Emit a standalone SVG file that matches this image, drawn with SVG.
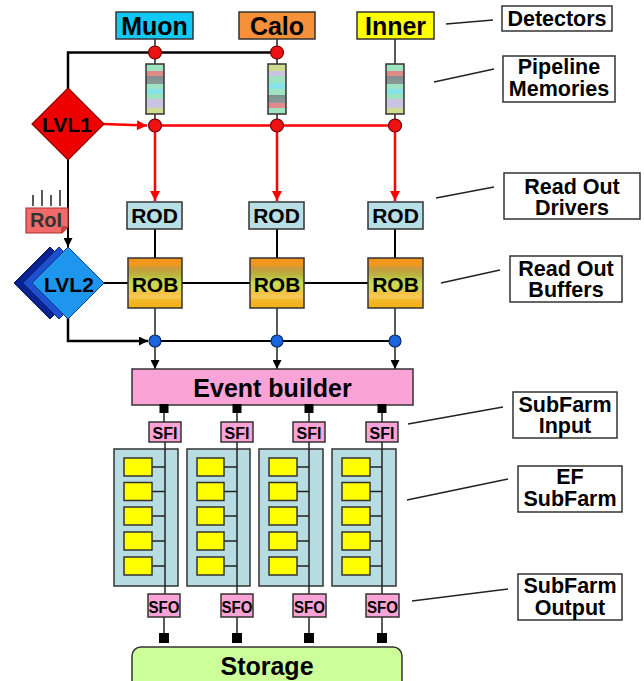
<svg xmlns="http://www.w3.org/2000/svg" width="644" height="681" viewBox="0 0 644 681">
<style>
text{font-family:"Liberation Sans",Arial,sans-serif;font-weight:bold;fill:#000;text-anchor:middle}
.box{stroke:#333;stroke-width:1.5}
.lbl{fill:#fff;stroke:#333;stroke-width:1.5}
.ln{fill:none;stroke:#222;stroke-width:1.5}
.bk{fill:none;stroke:#000;stroke-width:2.5}
.rd{fill:none;stroke:#f00;stroke-width:2.5}
.rdot{fill:#ee1111;stroke:#700;stroke-width:1.2}
.bdot{fill:#1a66e0;stroke:#0a2a6a;stroke-width:1.2}
.sq{fill:#000}
.pink{fill:#f9a3d6;stroke:#333;stroke-width:1.5}
.yel{fill:#ffff00;stroke:#333;stroke-width:1.5}
.farm{fill:#b7dde3;stroke:#333;stroke-width:1.5}
.rod{fill:#b9dfe6;stroke:#333;stroke-width:1.5}
.t25{font-size:25px}.t21{font-size:21px}.t16{font-size:16px}.tl{font-size:21.5px}
</style>
<defs>
<marker id="ab" viewBox="0 0 10 10" refX="10" refY="5" markerWidth="10" markerHeight="9" markerUnits="userSpaceOnUse" orient="auto"><path d="M0,0 L10,5 L0,10 z" fill="#000"/></marker>
<marker id="ar" viewBox="0 0 10 10" refX="10" refY="5" markerWidth="12" markerHeight="10" markerUnits="userSpaceOnUse" orient="auto"><path d="M0,0 L10,5 L0,10 z" fill="#f00"/></marker>
<linearGradient id="pipeA" x1="0" y1="0" x2="0" y2="1">
<stop offset="0" stop-color="#9fe3c3"/><stop offset="0.14" stop-color="#9fe3c3"/>
<stop offset="0.14" stop-color="#e08a8a"/><stop offset="0.23" stop-color="#e08a8a"/>
<stop offset="0.23" stop-color="#7f8f8f"/><stop offset="0.4" stop-color="#8a9a98"/>
<stop offset="0.4" stop-color="#9fe3c3"/><stop offset="0.5" stop-color="#9fe3c3"/>
<stop offset="0.5" stop-color="#86e2e6"/><stop offset="0.61" stop-color="#86e2e6"/>
<stop offset="0.61" stop-color="#9fe3c3"/><stop offset="0.71" stop-color="#9fe3c3"/>
<stop offset="0.71" stop-color="#cbc3e3"/><stop offset="0.89" stop-color="#cbc3e3"/>
<stop offset="0.89" stop-color="#cfdc90"/><stop offset="1" stop-color="#cfdc90"/>
</linearGradient>
<linearGradient id="pipeB" x1="0" y1="0" x2="0" y2="1">
<stop offset="0" stop-color="#cfdc90"/><stop offset="0.14" stop-color="#cfdc90"/>
<stop offset="0.14" stop-color="#cbc3e3"/><stop offset="0.24" stop-color="#cbc3e3"/>
<stop offset="0.24" stop-color="#9fe3c3"/><stop offset="0.38" stop-color="#9fe3c3"/>
<stop offset="0.38" stop-color="#86e2e6"/><stop offset="0.51" stop-color="#86e2e6"/>
<stop offset="0.51" stop-color="#9fe3c3"/><stop offset="0.63" stop-color="#9fe3c3"/>
<stop offset="0.63" stop-color="#7f8f8f"/><stop offset="0.78" stop-color="#8a9a98"/>
<stop offset="0.78" stop-color="#e08a8a"/><stop offset="0.88" stop-color="#e08a8a"/>
<stop offset="0.88" stop-color="#9fe3c3"/><stop offset="1" stop-color="#9fe3c3"/>
</linearGradient>
<linearGradient id="rob" x1="0" y1="0" x2="0" y2="1">
<stop offset="0" stop-color="#f39318"/><stop offset="0.14" stop-color="#f09a20"/>
<stop offset="0.2" stop-color="#c89a3c"/><stop offset="0.34" stop-color="#b9b43e"/>
<stop offset="0.5" stop-color="#c8dc50"/><stop offset="0.64" stop-color="#d9d24a"/>
<stop offset="0.7" stop-color="#f5c040"/><stop offset="0.78" stop-color="#f8cc5c"/>
<stop offset="0.84" stop-color="#f4b82a"/><stop offset="1" stop-color="#f2b010"/>
</linearGradient>
</defs>

<g id="connectors">
<line class="ln" x1="155" y1="39" x2="155" y2="64"/>
<line class="ln" x1="277" y1="39" x2="277" y2="64"/>
<line class="ln" x1="395" y1="39" x2="395" y2="64"/>
<line class="ln" x1="155" y1="114" x2="155" y2="125"/>
<line class="ln" x1="277" y1="114" x2="277" y2="125"/>
<line class="ln" x1="395" y1="114" x2="395" y2="125"/>
<polyline class="bk" points="68,90 68,52.5 277,52.5"/>
<line class="rd" x1="103" y1="124" x2="147" y2="125.5" marker-end="url(#ar)"/>
<line class="rd" x1="155" y1="125.5" x2="395" y2="125.5"/>
<line class="rd" x1="155" y1="125.5" x2="155" y2="201" marker-end="url(#ar)"/>
<line class="rd" x1="277" y1="125.5" x2="277" y2="201" marker-end="url(#ar)"/>
<line class="rd" x1="395" y1="125.5" x2="395" y2="201" marker-end="url(#ar)"/>
<line class="bk" x1="68" y1="158" x2="68" y2="247" marker-end="url(#ab)" style="stroke-width:2"/>
<line class="bk" style="stroke-width:2" x1="155" y1="229" x2="155" y2="258"/>
<line class="bk" style="stroke-width:2" x1="277" y1="229" x2="277" y2="258"/>
<line class="bk" style="stroke-width:2" x1="395" y1="229" x2="395" y2="258"/>
<line class="bk" style="stroke-width:2" x1="104" y1="283" x2="395" y2="283"/>
<polyline class="bk" style="stroke-width:2.5" points="68,318 68,341 148,341" marker-end="url(#ab)"/>
<line class="ln" x1="155" y1="308" x2="155" y2="341"/>
<line class="ln" x1="277" y1="308" x2="277" y2="341"/>
<line class="ln" x1="395" y1="308" x2="395" y2="341"/>
<line class="bk" style="stroke-width:2" x1="155" y1="341" x2="395" y2="341"/>
<line class="ln" x1="155" y1="341" x2="155" y2="369" marker-end="url(#ab)"/>
<line class="ln" x1="277" y1="341" x2="277" y2="369" marker-end="url(#ab)"/>
<line class="ln" x1="395" y1="341" x2="395" y2="369" marker-end="url(#ab)"/>
<line class="ln" x1="164" y1="410" x2="164" y2="422"/>
<line class="ln" x1="237" y1="410" x2="237" y2="422"/>
<line class="ln" x1="309" y1="410" x2="309" y2="422"/>
<line class="ln" x1="382" y1="410" x2="382" y2="422"/>
<line class="ln" x1="165" y1="442" x2="165" y2="594"/>
<line class="ln" x1="237" y1="442" x2="237" y2="594"/>
<line class="ln" x1="309" y1="442" x2="309" y2="594"/>
<line class="ln" x1="382" y1="442" x2="382" y2="594"/>
<line class="ln" x1="164" y1="617" x2="164" y2="635"/>
<line class="ln" x1="237" y1="617" x2="237" y2="635"/>
<line class="ln" x1="309" y1="617" x2="309" y2="635"/>
<line class="ln" x1="382" y1="617" x2="382" y2="635"/>
<line class="ln" x1="446" y1="24" x2="493" y2="20"/>
<line class="ln" x1="434" y1="82" x2="494" y2="69"/>
<line class="ln" x1="436" y1="198" x2="494" y2="187"/>
<line class="ln" x1="441" y1="283" x2="500" y2="270"/>
<line class="ln" x1="408" y1="424" x2="503" y2="407"/>
<line class="ln" x1="407" y1="500" x2="508" y2="479"/>
<line class="ln" x1="412" y1="601" x2="508" y2="589"/>
</g>

<g id="dots">
<circle class="rdot" cx="155" cy="52.5" r="6.5"/>
<circle class="rdot" cx="277" cy="52.5" r="6.5"/>
<circle class="rdot" cx="155" cy="125.5" r="6.5"/>
<circle class="rdot" cx="277" cy="125.5" r="6.5"/>
<circle class="rdot" cx="395" cy="125.5" r="6.5"/>
<circle class="bdot" cx="155" cy="341" r="6"/>
<circle class="bdot" cx="277" cy="341" r="6"/>
<circle class="bdot" cx="395" cy="341" r="6"/>
</g>

<g id="muon"><rect class="box" x="116" y="12" width="77" height="27" fill="#12c8f5"/><text class="t25" x="154.5" y="35">Muon</text></g>
<g id="calo"><rect class="box" x="239" y="12" width="76" height="27" fill="#f79139"/><text class="t25" x="277" y="35">Calo</text></g>
<g id="inner"><rect class="box" x="357" y="12" width="77" height="27" fill="#ffff00"/><text class="t25" x="395.5" y="35">Inner</text></g>

<g id="pipe-muon"><rect class="box" x="146" y="64" width="18" height="50" fill="url(#pipeA)"/></g>
<g id="pipe-calo"><rect class="box" x="268" y="64" width="18" height="50" fill="url(#pipeB)"/></g>
<g id="pipe-inner"><rect class="box" x="386" y="64" width="18" height="50" fill="url(#pipeA)"/></g>

<g id="lvl1"><polygon points="68,88 104,124 68,160 32,124" fill="#ee0000" stroke="#800" stroke-width="1.2"/><text class="t21" x="67" y="132">LVL1</text></g>

<g id="roi">
<line class="ln" x1="33" y1="195" x2="33" y2="206"/>
<line class="ln" x1="42" y1="190" x2="42" y2="206"/>
<line class="ln" x1="51" y1="195" x2="51" y2="206"/>
<line class="ln" x1="60" y1="190" x2="60" y2="206"/>
<path d="M26,208 H68 V227 L62,233 H26 Z" fill="#f26a6a" stroke="#a33" stroke-width="1.2"/>
<path d="M62,233 L62,227 L68,227" fill="#c44" stroke="#a33" stroke-width="1"/>
<text x="46" y="227" style="font-size:20px;fill:#333">RoI</text>
</g>

<g id="lvl2">
<polygon points="50,247 86,283 50,319 14,283" fill="#0b2390" stroke="#061550" stroke-width="1"/>
<polygon points="59,247 95,283 59,319 23,283" fill="#1c50d0" stroke="#0b2a80" stroke-width="1"/>
<polygon points="68,247 104,283 68,319 32,283" fill="#1e96ee" stroke="#0b3a80" stroke-width="1"/>
<text class="t21" x="69" y="292">LVL2</text>
</g>

<g id="rod1"><rect class="rod" x="127" y="202" width="55" height="27"/><text class="t21" x="154.5" y="223">ROD</text></g>
<g id="rod2"><rect class="rod" x="249" y="202" width="55" height="27"/><text class="t21" x="276.5" y="223">ROD</text></g>
<g id="rod3"><rect class="rod" x="368" y="202" width="55" height="27"/><text class="t21" x="395.5" y="223">ROD</text></g>

<g id="rob1"><rect class="box" x="128" y="258" width="54" height="50" fill="url(#rob)"/><text class="t21" x="155" y="292">ROB</text></g>
<g id="rob2"><rect class="box" x="250" y="258" width="54" height="50" fill="url(#rob)"/><text class="t21" x="277" y="292">ROB</text></g>
<g id="rob3"><rect class="box" x="368" y="258" width="55" height="50" fill="url(#rob)"/><text class="t21" x="395.5" y="292">ROB</text></g>

<g id="event-builder"><rect class="pink" x="132" y="369" width="281" height="36"/><text class="t25" x="272.5" y="397">Event builder</text></g>
<g id="eb-ports">
<rect class="sq" x="159.5" y="404" width="9" height="9"/>
<rect class="sq" x="232.5" y="404" width="9" height="9"/>
<rect class="sq" x="304.5" y="404" width="9" height="9"/>
<rect class="sq" x="377.5" y="404" width="9" height="9"/>
</g>

<g id="sfi1"><rect class="pink" x="149" y="422" width="32" height="20"/><text class="t16" x="165" y="439">SFI</text></g>
<g id="sfi2"><rect class="pink" x="221" y="422" width="32" height="20"/><text class="t16" x="237" y="439">SFI</text></g>
<g id="sfi3"><rect class="pink" x="293" y="422" width="32" height="20"/><text class="t16" x="309" y="439">SFI</text></g>
<g id="sfi4"><rect class="pink" x="366" y="422" width="32" height="20"/><text class="t16" x="382" y="439">SFI</text></g>

<g id="subfarm1">
<rect class="farm" x="114" y="449" width="64" height="137"/>
<line class="ln" x1="165" y1="449" x2="165" y2="586"/>
<g class="ln"><line x1="152" y1="467" x2="165" y2="467"/><line x1="152" y1="491.5" x2="165" y2="491.5"/><line x1="152" y1="516" x2="165" y2="516"/><line x1="152" y1="541" x2="165" y2="541"/><line x1="152" y1="566" x2="165" y2="566"/></g>
<rect class="yel" x="124" y="458" width="28" height="18"/><rect class="yel" x="124" y="482.5" width="28" height="18"/><rect class="yel" x="124" y="507" width="28" height="18"/><rect class="yel" x="124" y="532" width="28" height="18"/><rect class="yel" x="124" y="557" width="28" height="18"/>
</g>
<g id="subfarm2">
<rect class="farm" x="187" y="449" width="63" height="137"/>
<line class="ln" x1="237" y1="449" x2="237" y2="586"/>
<g class="ln"><line x1="224" y1="467" x2="237" y2="467"/><line x1="224" y1="491.5" x2="237" y2="491.5"/><line x1="224" y1="516" x2="237" y2="516"/><line x1="224" y1="541" x2="237" y2="541"/><line x1="224" y1="566" x2="237" y2="566"/></g>
<rect class="yel" x="197" y="458" width="27" height="18"/><rect class="yel" x="197" y="482.5" width="27" height="18"/><rect class="yel" x="197" y="507" width="27" height="18"/><rect class="yel" x="197" y="532" width="27" height="18"/><rect class="yel" x="197" y="557" width="27" height="18"/>
</g>
<g id="subfarm3">
<rect class="farm" x="259" y="449" width="64" height="137"/>
<line class="ln" x1="309" y1="449" x2="309" y2="586"/>
<g class="ln"><line x1="297" y1="467" x2="309" y2="467"/><line x1="297" y1="491.5" x2="309" y2="491.5"/><line x1="297" y1="516" x2="309" y2="516"/><line x1="297" y1="541" x2="309" y2="541"/><line x1="297" y1="566" x2="309" y2="566"/></g>
<rect class="yel" x="269" y="458" width="28" height="18"/><rect class="yel" x="269" y="482.5" width="28" height="18"/><rect class="yel" x="269" y="507" width="28" height="18"/><rect class="yel" x="269" y="532" width="28" height="18"/><rect class="yel" x="269" y="557" width="28" height="18"/>
</g>
<g id="subfarm4">
<rect class="farm" x="332" y="449" width="64" height="137"/>
<line class="ln" x1="382" y1="449" x2="382" y2="586"/>
<g class="ln"><line x1="370" y1="467" x2="382" y2="467"/><line x1="370" y1="491.5" x2="382" y2="491.5"/><line x1="370" y1="516" x2="382" y2="516"/><line x1="370" y1="541" x2="382" y2="541"/><line x1="370" y1="566" x2="382" y2="566"/></g>
<rect class="yel" x="342" y="458" width="28" height="18"/><rect class="yel" x="342" y="482.5" width="28" height="18"/><rect class="yel" x="342" y="507" width="28" height="18"/><rect class="yel" x="342" y="532" width="28" height="18"/><rect class="yel" x="342" y="557" width="28" height="18"/>
</g>

<g id="sfo1"><rect class="pink" x="148" y="594" width="32" height="23"/><text class="t16" x="164" y="613" textLength="31" lengthAdjust="spacingAndGlyphs">SFO</text></g>
<g id="sfo2"><rect class="pink" x="221" y="594" width="32" height="23"/><text class="t16" x="237" y="613" textLength="31" lengthAdjust="spacingAndGlyphs">SFO</text></g>
<g id="sfo3"><rect class="pink" x="293" y="594" width="33" height="23"/><text class="t16" x="309.5" y="613" textLength="31" lengthAdjust="spacingAndGlyphs">SFO</text></g>
<g id="sfo4"><rect class="pink" x="366" y="594" width="33" height="23"/><text class="t16" x="382.5" y="613" textLength="31" lengthAdjust="spacingAndGlyphs">SFO</text></g>
<g id="sfo-ports">
<rect class="sq" x="159" y="633" width="10" height="10"/>
<rect class="sq" x="232" y="633" width="10" height="10"/>
<rect class="sq" x="304" y="633" width="10" height="10"/>
<rect class="sq" x="377" y="633" width="10" height="10"/>
</g>

<g id="storage"><rect x="132" y="647" width="270" height="50" rx="9" fill="#ccff99" stroke="#333" stroke-width="1.5"/><text class="t25" x="267" y="675">Storage</text></g>

<g id="label-detectors"><rect class="lbl" x="502" y="6" width="110" height="25"/><text class="tl" x="557" y="26">Detectors</text></g>
<g id="label-pipeline"><rect class="lbl" x="503" y="56" width="112" height="46"/><text class="tl" x="559" y="74">Pipeline</text><text class="tl" x="559" y="96">Memories</text></g>
<g id="label-rod"><rect class="lbl" x="504" y="173" width="136" height="46"/><text class="tl" x="572" y="194">Read Out</text><text class="tl" x="572" y="215">Drivers</text></g>
<g id="label-rob"><rect class="lbl" x="510" y="256" width="112" height="46"/><text class="tl" x="566" y="276">Read Out</text><text class="tl" x="566" y="297">Buffers</text></g>
<g id="label-sfi"><rect class="lbl" x="513" y="392" width="104" height="46"/><text class="tl" x="565" y="412">SubFarm</text><text class="tl" x="565" y="433">Input</text></g>
<g id="label-ef"><rect class="lbl" x="518" y="466" width="104" height="46"/><text class="tl" x="570" y="484">EF</text><text class="tl" x="570" y="506">SubFarm</text></g>
<g id="label-sfo"><rect class="lbl" x="518" y="574" width="104" height="46"/><text class="tl" x="570" y="593">SubFarm</text><text class="tl" x="570" y="615">Output</text></g>
</svg>
